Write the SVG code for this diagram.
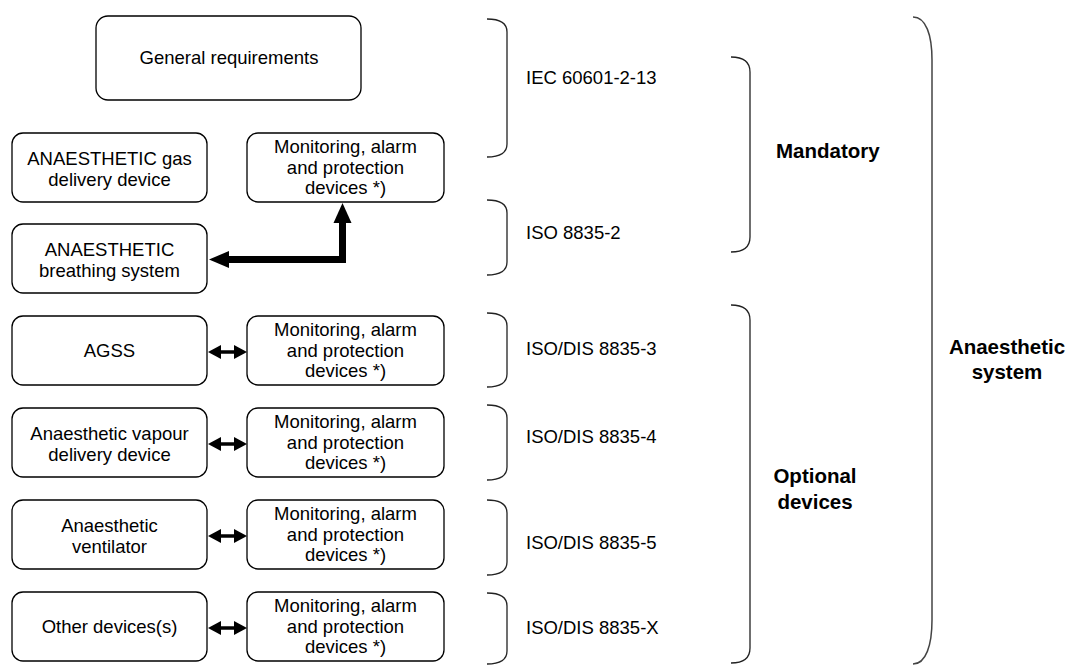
<svg xmlns="http://www.w3.org/2000/svg" width="1072" height="666" viewBox="0 0 1072 666">
<style>
.box{fill:#fff;stroke:#000;stroke-width:1.3}
.t{font-family:"Liberation Sans",Arial,sans-serif;font-size:18.5px;fill:#000}
.c{text-anchor:middle}
.b{font-family:"Liberation Sans",Arial,sans-serif;font-size:20.5px;font-weight:bold;fill:#000}
.br{fill:none;stroke:#222;stroke-width:1.3}
.bigbr{fill:none;stroke:#444;stroke-width:1.5}
</style>
<defs>
<g id="dbl">
<line x1="219" y1="0" x2="236" y2="0" stroke="#000" stroke-width="3.5"/>
<polygon points="208,0 221,-7 221,7" fill="#000"/>
<polygon points="247,0 234,-7 234,7" fill="#000"/>
</g>
</defs>
<rect width="1072" height="666" fill="#fff"/>

<g id="general">
<rect class="box" x="96" y="16" width="265" height="84" rx="12"/>
<text class="t c" x="229" y="64">General requirements</text>
</g>

<g id="gas">
<rect class="box" x="12" y="133" width="195" height="69" rx="11"/>
<text class="t c" x="109.5" y="165">ANAESTHETIC gas</text>
<text class="t c" x="109.5" y="185.5">delivery device</text>
</g>
<g id="mon1">
<rect class="box" x="247" y="133" width="197" height="69" rx="11"/>
<text class="t c" x="345.5" y="153">Monitoring, alarm</text>
<text class="t c" x="345.5" y="173.5">and protection</text>
<text class="t c" x="345.5" y="194">devices *)</text>
</g>

<g id="breathing">
<rect class="box" x="12" y="224" width="195" height="69" rx="11"/>
<text class="t c" x="109.5" y="256">ANAESTHETIC</text>
<text class="t c" x="109.5" y="276.5">breathing system</text>
</g>

<g id="agss">
<rect class="box" x="12" y="316" width="195" height="69" rx="11"/>
<text class="t c" x="109.5" y="357">AGSS</text>
</g>
<g id="mon2">
<rect class="box" x="247" y="316" width="197" height="69" rx="11"/>
<text class="t c" x="345.5" y="336">Monitoring, alarm</text>
<text class="t c" x="345.5" y="356.5">and protection</text>
<text class="t c" x="345.5" y="377">devices *)</text>
</g>

<g id="vapour">
<rect class="box" x="12" y="408" width="195" height="69" rx="11"/>
<text class="t c" x="109.5" y="440">Anaesthetic vapour</text>
<text class="t c" x="109.5" y="460.5">delivery device</text>
</g>
<g id="mon3">
<rect class="box" x="247" y="408" width="197" height="69" rx="11"/>
<text class="t c" x="345.5" y="428">Monitoring, alarm</text>
<text class="t c" x="345.5" y="448.5">and protection</text>
<text class="t c" x="345.5" y="469">devices *)</text>
</g>

<g id="ventilator">
<rect class="box" x="12" y="500" width="195" height="69" rx="11"/>
<text class="t c" x="109.5" y="532">Anaesthetic</text>
<text class="t c" x="109.5" y="552.5">ventilator</text>
</g>
<g id="mon4">
<rect class="box" x="247" y="500" width="197" height="69" rx="11"/>
<text class="t c" x="345.5" y="520">Monitoring, alarm</text>
<text class="t c" x="345.5" y="540.5">and protection</text>
<text class="t c" x="345.5" y="561">devices *)</text>
</g>

<g id="other">
<rect class="box" x="12" y="592" width="195" height="69" rx="11"/>
<text class="t c" x="109.5" y="633">Other devices(s)</text>
</g>
<g id="mon5">
<rect class="box" x="247" y="592" width="197" height="69" rx="11"/>
<text class="t c" x="345.5" y="612">Monitoring, alarm</text>
<text class="t c" x="345.5" y="632.5">and protection</text>
<text class="t c" x="345.5" y="653">devices *)</text>
</g>

<g id="connectors">
<path d="M226,259.5 H342.5 V220" fill="none" stroke="#000" stroke-width="7" stroke-linejoin="miter"/>
<polygon points="209,259.5 229,251 229,268" fill="#000"/>
<polygon points="342.5,203 333.5,223 351.5,223" fill="#000"/>
<use href="#dbl" transform="translate(0,352)"/>
<use href="#dbl" transform="translate(0,444)"/>
<use href="#dbl" transform="translate(0,536)"/>
<use href="#dbl" transform="translate(0,628)"/>
</g>

<g id="standards">
<path class="br" d="M487,19 C499,19 507,23 507,32 V144 C507,153 499,157 487,157"/>
<path class="br" d="M487,200 C499,200 507,204 507,213 V262 C507,271 499,275 487,275"/>
<path class="br" d="M487,313 C499,313 507,317 507,326 V374 C507,383 499,387 487,387"/>
<path class="br" d="M487,405 C499,405 507,409 507,418 V467 C507,476 499,480 487,480"/>
<path class="br" d="M487,500 C499,500 507,504 507,513 V562 C507,571 499,575 487,575"/>
<path class="br" d="M487,593 C499,593 507,597 507,606 V651 C507,660 499,664 487,664"/>
<text class="t" x="526" y="84">IEC 60601-2-13</text>
<text class="t" x="526" y="239">ISO 8835-2</text>
<text class="t" x="526" y="355">ISO/DIS 8835-3</text>
<text class="t" x="526" y="443">ISO/DIS 8835-4</text>
<text class="t" x="526" y="549">ISO/DIS 8835-5</text>
<text class="t" x="526" y="634">ISO/DIS 8835-X</text>
</g>

<g id="groups">
<path class="br" d="M731,57 C743,57 750,62 750,72 V237 C750,247 743,252 731,252"/>
<path class="br" d="M731,305 C743,305 750,310 750,320 V648 C750,658 743,663 731,663"/>
<text class="b" x="776" y="158">Mandatory</text>
<text class="b c" x="815" y="483">Optional</text>
<text class="b c" x="815" y="509">devices</text>
<path class="bigbr" d="M913,17 C926,17 932,35 932,60 V620 C932,645 926,664 913,664"/>
<text class="b c" x="1007" y="354">Anaesthetic</text>
<text class="b c" x="1007" y="379">system</text>
</g>
</svg>
